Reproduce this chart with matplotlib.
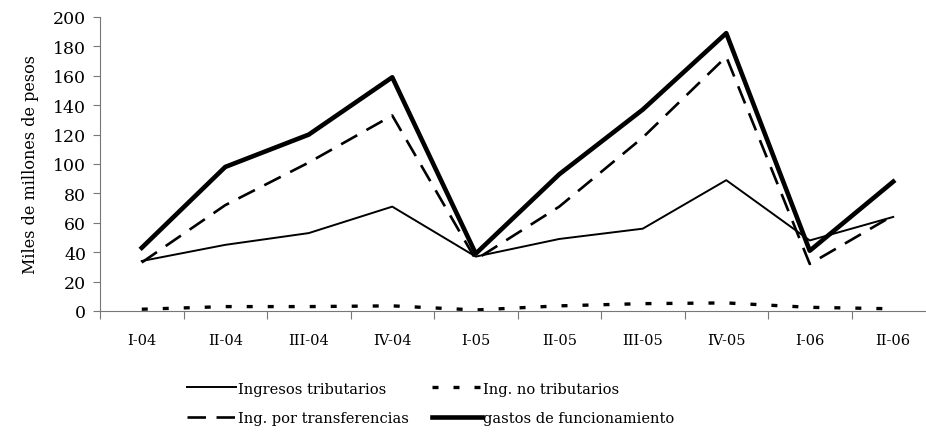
import numpy as np
import matplotlib
matplotlib.use("Agg")
import matplotlib.pyplot as plt
from matplotlib.ticker import FixedLocator

periods = ["I-04", "II-04", "III-04", "IV-04", "I-05",
           "II-05", "III-05", "IV-05", "I-06", "II-06"]
tributarios = [34, 45, 53, 71, 37, 49, 56, 89, 48, 64]
no_tributarios = [1.2, 3, 3, 3.5, 0.7, 3.5, 5, 5.5, 2.5, 1.5]
transferencias = [33, 72, 101, 133, 35, 71, 118, 173, 32, 65]
funcionamiento = [43, 98, 120, 159, 39, 93, 137, 189, 41, 88]

plt.rcParams["font.family"] = ["DejaVu Serif"]

fig = plt.figure(figsize=(9.26, 4.39), dpi=100)
ax = fig.add_axes([100 / 926, 127 / 439, 835 / 926, 294 / 439])

x = np.arange(len(periods))
l1, = ax.plot(x, tributarios, color="black", lw=1.4)
l2, = ax.plot(x, no_tributarios, color="black", lw=2.4, dashes=(1.8, 4.5))
l3, = ax.plot(x, transferencias, color="black", lw=1.9, dashes=(7, 4))
l4, = ax.plot(x, funcionamiento, color="black", lw=3.3)

ax.set_xlim(-0.5, 9.5)
ax.set_ylim(0, 200)
ax.set_yticks(range(0, 201, 20))
ax.xaxis.set_major_locator(FixedLocator(np.arange(-0.5, 10, 1)))
ax.xaxis.set_major_formatter(plt.NullFormatter())
ax.xaxis.set_minor_locator(FixedLocator(x))
ax.set_xticklabels(periods, minor=True)
ax.tick_params(axis="x", which="major", length=6, direction="out", color="#777777")
ax.tick_params(axis="x", which="minor", length=0, pad=16, labelsize=10.5)
ax.tick_params(axis="y", length=5, color="#777777", labelsize=12.5, pad=5)

for side in ["top", "right"]:
    ax.spines[side].set_visible(False)
for side in ["left", "bottom"]:
    ax.spines[side].set_color("#777777")

ax.set_ylabel("Miles de millones de pesos", fontsize=11.5, labelpad=10)

# legend is filled column by column
fig.legend([l1, l3, l2, l4],
           ["Ingresos tributarios", "Ing. por transferencias",
            "Ing. no tributarios", "gastos de funcionamiento"],
           loc="lower center", bbox_to_anchor=(0.465, 0.0), ncol=2, frameon=False,
           fontsize=10.5, handlelength=3.4, handletextpad=0.1, columnspacing=1.6,
           labelspacing=1.05)

fig.savefig("out.png", dpi=100)
